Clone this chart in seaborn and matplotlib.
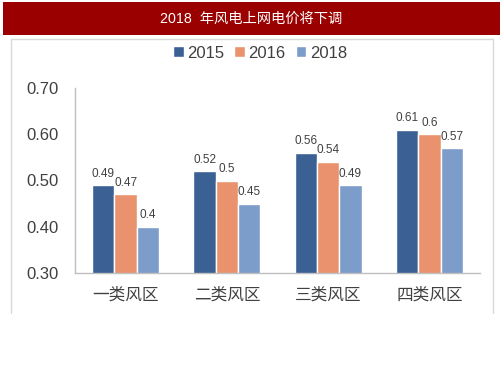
import matplotlib
matplotlib.use("Agg")
import matplotlib.pyplot as plt
import seaborn as sns
import pandas as pd
from matplotlib.patches import Rectangle
from matplotlib.lines import Line2D

categories = ["一类风区", "二类风区", "三类风区", "四类风区"]
years = ["2015", "2016", "2018"]
v2015 = [0.49, 0.52, 0.56, 0.61]
v2016 = [0.47, 0.50, 0.54, 0.60]
v2018 = [0.40, 0.45, 0.49, 0.57]
labels2015 = ["0.49", "0.52", "0.56", "0.61"]
labels2016 = ["0.47", "0.5", "0.54", "0.6"]
labels2018 = ["0.4", "0.45", "0.49", "0.57"]
yticks = [0.30, 0.40, 0.50, 0.60, 0.70]
title = "2018  年风电上网电价将下调"

colors = ["#3B6194", "#E9926D", "#7C9CC9"]

sns.set_theme(style="white")
plt.rcParams['font.family'] = ['Liberation Sans', 'Noto Sans CJK SC', 'DejaVu Sans']

rows = []
for y, vals in zip(years, [v2015, v2016, v2018]):
    for c, v in zip(categories, vals):
        rows.append({"cat": c, "year": y, "val": v})
df = pd.DataFrame(rows)

fig = plt.figure(figsize=(5.03, 3.78), dpi=100)
# title bar
fig.patches.append(Rectangle((3/503, 1-35/378), 497/503, 33/378, transform=fig.transFigure,
                             facecolor="#9A0000", edgecolor="none", zorder=0))
fig.text(0.5, 1-19/378, title, color="white", ha="center", va="center", fontsize=10.3,
         family=['Liberation Sans', 'Noto Sans CJK SC'])
# frame lines
fc = "#D9D9D9"
fig.lines.append(Line2D([11/503, 493/503], [1-39/378, 1-39/378], transform=fig.transFigure, color=fc, lw=1))
fig.lines.append(Line2D([11/503, 11/503], [1-39/378, 1-313/378], transform=fig.transFigure, color=fc, lw=1))
fig.lines.append(Line2D([493/503, 493/503], [1-39/378, 1-313/378], transform=fig.transFigure, color=fc, lw=1))

ax = fig.add_axes([75/503, 1-273/378, 405/503, (273-88)/378])
sns.barplot(data=df, x="cat", y="val", hue="year", palette=colors, width=0.66,
            ax=ax, saturation=1, legend=True)
ax.set_ylim(0.3, 0.7)
ax.set_xlim(-0.5, 3.5)
ax.set_yticks(yticks)
ax.set_yticklabels([f"{t:.2f}" for t in yticks], fontsize=12, color="#404040")
ax.tick_params(axis="x", labelsize=12, colors="#404040", length=0, pad=10)
ax.tick_params(axis="y", length=4, width=1, color="#BFBFBF", direction="out", pad=8)
for lab in ax.get_yticklabels():
    lab.set_color("#404040")
for lab in ax.get_xticklabels():
    lab.set_family(['Noto Sans CJK SC'])
ax.set_xlabel("")
ax.set_ylabel("")
for s in ["top", "right"]:
    ax.spines[s].set_visible(False)
for s in ["left", "bottom"]:
    ax.spines[s].set_color("#BFBFBF")
    ax.spines[s].set_linewidth(1)

for cont, labs in zip(ax.containers, [labels2015, labels2016, labels2018]):
    ax.bar_label(cont, labels=labs, fontsize=8.5, color="#404040", padding=4)

leg = ax.legend(loc="center", bbox_to_anchor=(260/503, 1-53/378), bbox_transform=fig.transFigure,
                ncol=3, frameon=False, fontsize=12, handlelength=0.65, handleheight=0.65,
                handletextpad=0.2, columnspacing=0.6)
for t in leg.get_texts():
    t.set_color("#404040")

fig.savefig("out.png", dpi=100)
